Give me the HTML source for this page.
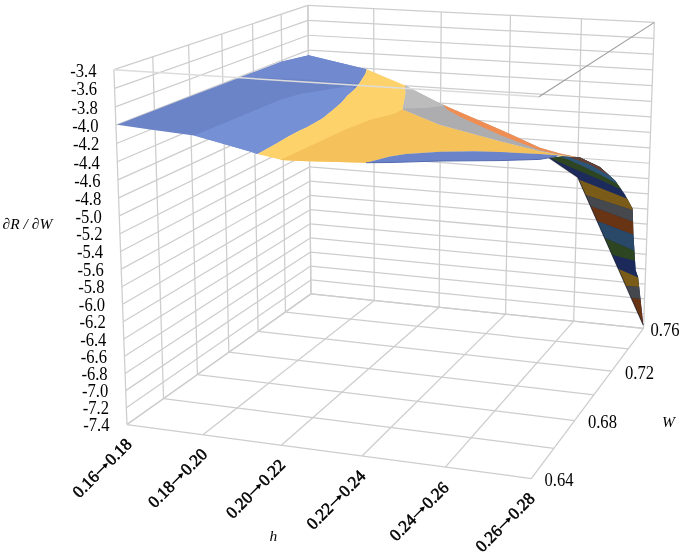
<!DOCTYPE html>
<html><head><meta charset="utf-8"><style>
html,body{margin:0;padding:0;background:#fff;}
svg{display:block;will-change:transform;}
text{font-family:"Liberation Serif",serif;fill:#000;}
.v{font-size:16.6px;}
.h{font-size:17px;font-weight:normal;stroke:#000;stroke-width:0.55px;}
.it{font-size:15.5px;font-style:italic;}
</style></head><body>
<svg width="685" height="554" viewBox="0 0 685 554">
<rect width="685" height="554" fill="#fff"/>
<g><line x1="126.97" y1="424.57" x2="113.88" y2="69.71" stroke="#cdcdcd" stroke-width="1.25"/>
<line x1="163.55" y1="398.59" x2="152.75" y2="56.82" stroke="#cdcdcd" stroke-width="1.25"/>
<line x1="197.41" y1="374.53" x2="188.60" y2="44.93" stroke="#cdcdcd" stroke-width="1.25"/>
<line x1="228.85" y1="352.20" x2="221.76" y2="33.93" stroke="#cdcdcd" stroke-width="1.25"/>
<line x1="258.11" y1="331.41" x2="252.54" y2="23.72" stroke="#cdcdcd" stroke-width="1.25"/>
<line x1="285.42" y1="312.01" x2="281.17" y2="14.22" stroke="#cdcdcd" stroke-width="1.25"/>
<line x1="310.97" y1="293.87" x2="307.88" y2="5.36" stroke="#cdcdcd" stroke-width="1.25"/>
<line x1="126.97" y1="424.57" x2="310.97" y2="293.87" stroke="#cdcdcd" stroke-width="1.25"/>
<line x1="126.34" y1="407.64" x2="310.82" y2="279.97" stroke="#cdcdcd" stroke-width="1.25"/>
<line x1="125.71" y1="390.62" x2="310.67" y2="266.02" stroke="#cdcdcd" stroke-width="1.25"/>
<line x1="125.08" y1="373.52" x2="310.52" y2="252.01" stroke="#cdcdcd" stroke-width="1.25"/>
<line x1="124.45" y1="356.34" x2="310.37" y2="237.95" stroke="#cdcdcd" stroke-width="1.25"/>
<line x1="123.81" y1="339.07" x2="310.22" y2="223.84" stroke="#cdcdcd" stroke-width="1.25"/>
<line x1="123.17" y1="321.72" x2="310.07" y2="209.67" stroke="#cdcdcd" stroke-width="1.25"/>
<line x1="122.53" y1="304.29" x2="309.92" y2="195.45" stroke="#cdcdcd" stroke-width="1.25"/>
<line x1="121.88" y1="286.77" x2="309.76" y2="181.17" stroke="#cdcdcd" stroke-width="1.25"/>
<line x1="121.24" y1="269.17" x2="309.61" y2="166.83" stroke="#cdcdcd" stroke-width="1.25"/>
<line x1="120.58" y1="251.48" x2="309.46" y2="152.44" stroke="#cdcdcd" stroke-width="1.25"/>
<line x1="119.93" y1="233.71" x2="309.30" y2="138.00" stroke="#cdcdcd" stroke-width="1.25"/>
<line x1="119.27" y1="215.84" x2="309.15" y2="123.49" stroke="#cdcdcd" stroke-width="1.25"/>
<line x1="118.61" y1="197.89" x2="308.99" y2="108.93" stroke="#cdcdcd" stroke-width="1.25"/>
<line x1="117.94" y1="179.85" x2="308.83" y2="94.31" stroke="#cdcdcd" stroke-width="1.25"/>
<line x1="117.27" y1="161.72" x2="308.68" y2="79.63" stroke="#cdcdcd" stroke-width="1.25"/>
<line x1="116.60" y1="143.50" x2="308.52" y2="64.90" stroke="#cdcdcd" stroke-width="1.25"/>
<line x1="115.93" y1="125.19" x2="308.36" y2="50.10" stroke="#cdcdcd" stroke-width="1.25"/>
<line x1="115.25" y1="106.79" x2="308.20" y2="35.25" stroke="#cdcdcd" stroke-width="1.25"/>
<line x1="114.57" y1="88.30" x2="308.04" y2="20.34" stroke="#cdcdcd" stroke-width="1.25"/>
<line x1="113.88" y1="69.71" x2="307.88" y2="5.36" stroke="#cdcdcd" stroke-width="1.25"/>
<line x1="310.97" y1="293.87" x2="307.88" y2="5.36" stroke="#cdcdcd" stroke-width="1.25"/>
<line x1="374.27" y1="300.44" x2="373.71" y2="8.59" stroke="#cdcdcd" stroke-width="1.25"/>
<line x1="439.12" y1="307.18" x2="441.21" y2="11.90" stroke="#cdcdcd" stroke-width="1.25"/>
<line x1="505.57" y1="314.09" x2="510.45" y2="15.29" stroke="#cdcdcd" stroke-width="1.25"/>
<line x1="573.68" y1="321.17" x2="581.49" y2="18.77" stroke="#cdcdcd" stroke-width="1.25"/>
<line x1="643.52" y1="328.43" x2="654.41" y2="22.35" stroke="#cdcdcd" stroke-width="1.25"/>
<line x1="310.97" y1="293.87" x2="643.52" y2="328.43" stroke="#cdcdcd" stroke-width="1.25"/>
<line x1="310.82" y1="279.97" x2="644.04" y2="313.72" stroke="#cdcdcd" stroke-width="1.25"/>
<line x1="310.67" y1="266.02" x2="644.57" y2="298.95" stroke="#cdcdcd" stroke-width="1.25"/>
<line x1="310.52" y1="252.01" x2="645.10" y2="284.12" stroke="#cdcdcd" stroke-width="1.25"/>
<line x1="310.37" y1="237.95" x2="645.63" y2="269.23" stroke="#cdcdcd" stroke-width="1.25"/>
<line x1="310.22" y1="223.84" x2="646.16" y2="254.28" stroke="#cdcdcd" stroke-width="1.25"/>
<line x1="310.07" y1="209.67" x2="646.69" y2="239.27" stroke="#cdcdcd" stroke-width="1.25"/>
<line x1="309.92" y1="195.45" x2="647.23" y2="224.19" stroke="#cdcdcd" stroke-width="1.25"/>
<line x1="309.76" y1="181.17" x2="647.77" y2="209.05" stroke="#cdcdcd" stroke-width="1.25"/>
<line x1="309.61" y1="166.83" x2="648.31" y2="193.85" stroke="#cdcdcd" stroke-width="1.25"/>
<line x1="309.46" y1="152.44" x2="648.85" y2="178.58" stroke="#cdcdcd" stroke-width="1.25"/>
<line x1="309.30" y1="138.00" x2="649.40" y2="163.25" stroke="#cdcdcd" stroke-width="1.25"/>
<line x1="309.15" y1="123.49" x2="649.95" y2="147.86" stroke="#cdcdcd" stroke-width="1.25"/>
<line x1="308.99" y1="108.93" x2="650.50" y2="132.40" stroke="#cdcdcd" stroke-width="1.25"/>
<line x1="308.83" y1="94.31" x2="651.05" y2="116.88" stroke="#cdcdcd" stroke-width="1.25"/>
<line x1="308.68" y1="79.63" x2="651.60" y2="101.29" stroke="#cdcdcd" stroke-width="1.25"/>
<line x1="308.52" y1="64.90" x2="652.16" y2="85.63" stroke="#cdcdcd" stroke-width="1.25"/>
<line x1="308.36" y1="50.10" x2="652.72" y2="69.91" stroke="#cdcdcd" stroke-width="1.25"/>
<line x1="308.20" y1="35.25" x2="653.28" y2="54.13" stroke="#cdcdcd" stroke-width="1.25"/>
<line x1="308.04" y1="20.34" x2="653.85" y2="38.27" stroke="#cdcdcd" stroke-width="1.25"/>
<line x1="307.88" y1="5.36" x2="654.41" y2="22.35" stroke="#cdcdcd" stroke-width="1.25"/>
<line x1="126.97" y1="424.57" x2="531.25" y2="478.54" stroke="#cdcdcd" stroke-width="1.25"/>
<line x1="163.55" y1="398.59" x2="553.84" y2="448.33" stroke="#cdcdcd" stroke-width="1.25"/>
<line x1="197.41" y1="374.53" x2="574.64" y2="420.53" stroke="#cdcdcd" stroke-width="1.25"/>
<line x1="228.85" y1="352.20" x2="593.84" y2="394.85" stroke="#cdcdcd" stroke-width="1.25"/>
<line x1="258.11" y1="331.41" x2="611.62" y2="371.08" stroke="#cdcdcd" stroke-width="1.25"/>
<line x1="285.42" y1="312.01" x2="628.14" y2="348.99" stroke="#cdcdcd" stroke-width="1.25"/>
<line x1="310.97" y1="293.87" x2="643.52" y2="328.43" stroke="#cdcdcd" stroke-width="1.25"/>
<line x1="126.97" y1="424.57" x2="310.97" y2="293.87" stroke="#cdcdcd" stroke-width="1.25"/>
<line x1="202.97" y1="434.72" x2="374.27" y2="300.44" stroke="#cdcdcd" stroke-width="1.25"/>
<line x1="281.29" y1="445.17" x2="439.12" y2="307.18" stroke="#cdcdcd" stroke-width="1.25"/>
<line x1="362.03" y1="455.95" x2="505.57" y2="314.09" stroke="#cdcdcd" stroke-width="1.25"/>
<line x1="445.31" y1="467.07" x2="573.68" y2="321.17" stroke="#cdcdcd" stroke-width="1.25"/>
<line x1="531.25" y1="478.54" x2="643.52" y2="328.43" stroke="#cdcdcd" stroke-width="1.25"/></g>
<g><polygon points="117.20,124.70 190.00,96.40 253.00,72.60 282.00,61.60 308.70,55.20 366.60,69.20 365.50,73.50 359.00,83.80 355.70,88.20 347.10,95.70 341.70,102.20 333.00,109.80 322.20,118.50 306.30,127.50 300.00,130.30 288.20,136.40 275.00,144.30 257.50,153.90 250.00,151.50 193.80,135.40 150.00,129.60" fill="#6b83c7" />
<polygon points="240.00,77.50 253.00,72.60 282.00,61.60 308.70,55.20 366.60,69.20 365.50,73.50 359.00,83.80 300.00,79.00" fill="#7089cf" />
<polygon points="194.50,135.20 240.00,116.50 280.00,99.80 300.00,94.00 346.00,86.50 352.00,87.00 355.70,88.20 347.10,95.70 341.70,102.20 333.00,109.80 322.20,118.50 306.30,127.50 300.00,130.30 288.20,136.40 275.00,144.30 257.50,153.90 250.00,151.50" fill="#7690d6" />
<polygon points="366.60,69.20 405.10,85.40 405.80,93.30 403.00,107.80 402.60,109.50 440.00,125.00 500.00,141.20 540.00,151.30 558.00,154.50 577.00,157.40 578.00,157.60 560.00,155.50 540.00,153.90 500.00,152.10 474.00,151.20 440.00,151.70 405.80,154.00 390.00,156.50 366.00,162.70 300.00,160.90 282.00,160.00 257.50,153.90 275.00,144.30 288.20,136.40 300.00,130.30 306.30,127.50 322.20,118.50 333.00,109.80 341.70,102.20 347.10,95.70 355.70,88.20 359.00,83.80 365.50,73.50 366.60,69.20" fill="#fed26b" />
<polygon points="280.00,160.00 344.40,130.00 369.60,120.00 395.00,113.60 402.60,109.50 440.00,125.00 500.00,141.20 540.00,151.30 558.00,154.50 577.00,157.40 578.00,157.60 560.00,155.50 540.00,153.90 500.00,152.10 474.00,151.20 440.00,151.70 405.80,154.00 390.00,156.50 366.00,162.70 300.00,160.90" fill="#f5c15b" />
<polygon points="405.10,85.40 440.00,103.50 500.00,129.40 540.00,147.80 560.00,153.60 578.00,157.20 577.00,157.40 558.00,154.50 540.00,151.30 500.00,141.20 440.00,125.00 402.60,109.50 403.00,107.80 405.80,93.30" fill="#adadb0" />
<polygon points="405.10,85.40 440.00,103.50 446.00,105.50 425.00,108.00 403.00,108.50 405.80,93.30" fill="#bcbcbc" />
<polygon points="443.00,104.80 500.00,129.40 540.00,147.80 560.00,153.60 578.00,157.20 576.00,157.30 558.00,154.30 540.00,150.30 500.00,135.00 460.00,116.80 447.00,109.50" fill="#f08d52" />
<polygon points="366.00,162.70 390.00,156.50 405.80,154.00 440.00,151.70 474.00,151.20 500.00,152.10 540.00,153.90 560.00,155.50 557.00,156.00 549.00,157.80 539.40,159.40 500.00,160.60 440.00,161.00 390.00,162.50 366.00,162.70" fill="#6a83c9" />
<polyline points="366.00,162.70 390.00,162.50 440.00,161.00 500.00,160.60 539.40,159.40 549.00,157.80 557.00,156.00" fill="none" stroke="#5269ad" stroke-width="1"/>
<polygon points="549.20,158.00 562.50,156.60 580.00,157.60 599.90,166.90 615.00,180.40 625.00,194.40 632.70,208.80 633.40,233.30 635.60,270.00 638.20,277.40 643.30,325.30 577.70,177.40" fill="#1c2b5c" />
<polygon points="551.50,157.80 562.50,156.60 580.00,157.60 599.90,166.90 615.00,180.40 621.86,190.00 600.00,179.80 580.00,171.20 553.00,159.50" fill="#2e4522" />
<polygon points="560.00,156.80 562.50,156.60 580.00,157.60 599.90,166.90 615.00,180.40 617.57,184.00 600.00,174.50 584.00,166.80 568.00,159.50" fill="#2d5577" />
<polygon points="569.00,157.10 580.00,157.60 599.90,166.90 610.08,176.00 590.00,164.50" fill="#673f30" />
<polygon points="578.63,179.50 627.30,198.70 632.70,208.80 632.74,210.20 585.50,195.00" fill="#7a5c18" />
<polygon points="585.50,195.00 632.74,210.20 633.07,221.80 590.38,206.00" fill="#45484d" />
<polygon points="590.38,206.00 633.07,221.80 633.40,233.30 633.49,234.80 597.03,221.00" fill="#683414" />
<polygon points="597.03,221.00 633.49,234.80 634.44,250.70 604.43,237.70" fill="#2a4868" />
<polygon points="604.43,237.70 634.44,250.70 635.06,261.00 612.10,255.00" fill="#2e4522" />
<polygon points="612.10,255.00 635.06,261.00 635.60,270.00 638.20,277.40 618.22,268.80" fill="#1b2a5a" />
<polygon points="618.22,268.80 638.20,277.40 639.22,287.00 625.84,286.00" fill="#7a5c18" />
<polygon points="625.84,286.00 639.22,287.00 640.50,299.00 631.03,297.70" fill="#45484d" />
<polygon points="631.03,297.70 640.50,299.00 643.30,325.30" fill="#683414" />
<polyline points="549.2,158 577.7,177.4 643.3,325.3" fill="none" stroke="#15182a" stroke-width="1.1" stroke-opacity="0.55"/></g>
<g><line x1="113.88" y1="69.71" x2="539.03" y2="96.77" stroke="#dcdcdc" stroke-width="1.5"/>
<line x1="539.03" y1="96.77" x2="654.41" y2="22.35" stroke="#9c9c9c" stroke-width="1.1"/></g>
<g><text transform="translate(96.48,76.71) scale(1,1.08)" text-anchor="end" class="v">-3.4</text>
<text transform="translate(97.17,95.28) scale(1,1.08)" text-anchor="end" class="v">-3.6</text>
<text transform="translate(97.85,113.74) scale(1,1.08)" text-anchor="end" class="v">-3.8</text>
<text transform="translate(98.53,132.12) scale(1,1.08)" text-anchor="end" class="v">-4.0</text>
<text transform="translate(99.20,150.40) scale(1,1.08)" text-anchor="end" class="v">-4.2</text>
<text transform="translate(99.87,168.60) scale(1,1.08)" text-anchor="end" class="v">-4.4</text>
<text transform="translate(100.54,186.70) scale(1,1.08)" text-anchor="end" class="v">-4.6</text>
<text transform="translate(101.21,204.72) scale(1,1.08)" text-anchor="end" class="v">-4.8</text>
<text transform="translate(101.87,222.64) scale(1,1.08)" text-anchor="end" class="v">-5.0</text>
<text transform="translate(102.53,240.48) scale(1,1.08)" text-anchor="end" class="v">-5.2</text>
<text transform="translate(103.18,258.23) scale(1,1.08)" text-anchor="end" class="v">-5.4</text>
<text transform="translate(103.84,275.89) scale(1,1.08)" text-anchor="end" class="v">-5.6</text>
<text transform="translate(104.48,293.47) scale(1,1.08)" text-anchor="end" class="v">-5.8</text>
<text transform="translate(105.13,310.97) scale(1,1.08)" text-anchor="end" class="v">-6.0</text>
<text transform="translate(105.77,328.37) scale(1,1.08)" text-anchor="end" class="v">-6.2</text>
<text transform="translate(106.41,345.70) scale(1,1.08)" text-anchor="end" class="v">-6.4</text>
<text transform="translate(107.05,362.94) scale(1,1.08)" text-anchor="end" class="v">-6.6</text>
<text transform="translate(107.68,380.09) scale(1,1.08)" text-anchor="end" class="v">-6.8</text>
<text transform="translate(108.31,397.17) scale(1,1.08)" text-anchor="end" class="v">-7.0</text>
<text transform="translate(108.94,414.16) scale(1,1.08)" text-anchor="end" class="v">-7.2</text>
<text transform="translate(109.57,431.07) scale(1,1.08)" text-anchor="end" class="v">-7.4</text>
<text transform="translate(544.50,485.90) scale(1,1.08)" class="v">0.64</text>
<text transform="translate(587.90,427.50) scale(1,1.08)" class="v">0.68</text>
<text transform="translate(625.00,378.70) scale(1,1.08)" class="v">0.72</text>
<text transform="translate(650.50,335.70) scale(1,1.08)" class="v">0.76</text>
<g transform="translate(125.55,438.10) rotate(-45)"><text x="-75.65" y="10.20" class="h">0.16</text><path d="M-45.40,5.10 H-33.25" stroke="#000" stroke-width="1.3"/><path d="M-30.25,5.10 l-5,-2.6 l0,5.2 z" fill="#000"/><text x="-29.75" y="10.20" class="h">0.18</text></g>
<g transform="translate(201.00,448.10) rotate(-45)"><text x="-75.65" y="10.20" class="h">0.18</text><path d="M-45.40,5.10 H-33.25" stroke="#000" stroke-width="1.3"/><path d="M-30.25,5.10 l-5,-2.6 l0,5.2 z" fill="#000"/><text x="-29.75" y="10.20" class="h">0.20</text></g>
<g transform="translate(278.95,458.85) rotate(-45)"><text x="-75.65" y="10.20" class="h">0.20</text><path d="M-45.40,5.10 H-33.25" stroke="#000" stroke-width="1.3"/><path d="M-30.25,5.10 l-5,-2.6 l0,5.2 z" fill="#000"/><text x="-29.75" y="10.20" class="h">0.22</text></g>
<g transform="translate(359.40,469.85) rotate(-45)"><text x="-75.65" y="10.20" class="h">0.22</text><path d="M-45.40,5.10 H-33.25" stroke="#000" stroke-width="1.3"/><path d="M-30.25,5.10 l-5,-2.6 l0,5.2 z" fill="#000"/><text x="-29.75" y="10.20" class="h">0.24</text></g>
<g transform="translate(442.60,481.40) rotate(-45)"><text x="-75.65" y="10.20" class="h">0.24</text><path d="M-45.40,5.10 H-33.25" stroke="#000" stroke-width="1.3"/><path d="M-30.25,5.10 l-5,-2.6 l0,5.2 z" fill="#000"/><text x="-29.75" y="10.20" class="h">0.26</text></g>
<g transform="translate(528.55,492.30) rotate(-45)"><text x="-75.65" y="10.20" class="h">0.26</text><path d="M-45.40,5.10 H-33.25" stroke="#000" stroke-width="1.3"/><path d="M-30.25,5.10 l-5,-2.6 l0,5.2 z" fill="#000"/><text x="-29.75" y="10.20" class="h">0.28</text></g>
<text x="2.6" y="228.9" class="it">∂R / ∂W</text>
<text x="269.6" y="540.7" class="it">h</text>
<text x="662" y="427.3" class="it">W</text></g>
</svg>
</body></html>
